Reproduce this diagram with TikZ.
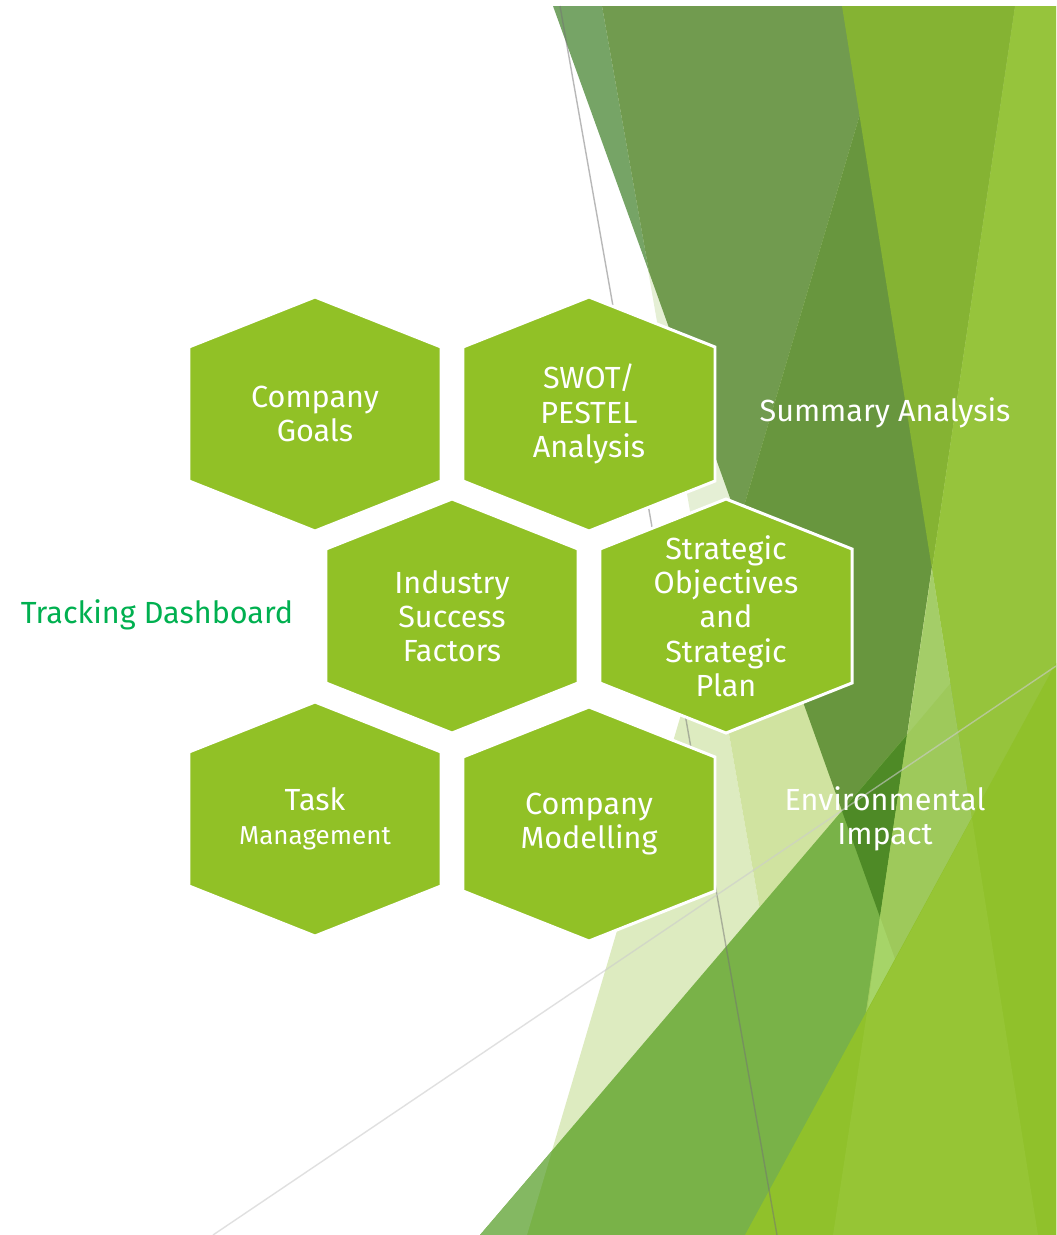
\documentclass[tikz,border=0pt]{standalone}
\usepackage{fontspec}
\setmainfont{Fira Sans}
\definecolor{hexgreen}{RGB}{145,193,38}
\definecolor{trackgreen}{RGB}{0,176,80}
\newcommand{\hexfont}{\fontsize{17.4}{19.5}\selectfont}
\newcommand{\mgmtfont}{\fontsize{14.8}{16.5}\selectfont}
\tikzset{
  hexa/.style={fill=hexgreen,draw=white,line width=1.7pt,line join=miter},
  hextext/.style={text=white,align=center,font=\hexfont,inner sep=0pt},
  sidetext/.style={align=center,font=\hexfont,inner sep=0pt}
}
\begin{document}
\begin{tikzpicture}[x=0.02cm,y=-0.02cm]
    \useasboundingbox (0,0) rectangle (1056,1235);
    \fill[white] (0,0) rectangle (1056,1235);
    % Facet background
    \fill[color={rgb,255:red,229;green,239;blue,213}] (602,6) -- (892,6) -- (709,620) -- cycle;
    \fill[color={rgb,255:red,221;green,235;blue,192}] (709,620) -- (817,1235) -- (527,1235) -- cycle;
    \fill[color={rgb,255:red,208;green,227;blue,160}] (892,6) -- (1056,6) -- (1056,1235) -- (817,1235) -- (709,620) -- cycle;
    \fill[color={rgb,255:red,118;green,164;blue,102}] (553,6) -- (602,6) -- (649,272) -- cycle;
    \fill[color={rgb,255:red,113;green,155;blue,79}] (602,6) -- (892,6) -- (739,523) -- (649,272) -- cycle;
    \fill[color={rgb,255:red,104;green,150;blue,62}] (892,6) -- (1015,6) -- (880,917) -- (739,523) -- cycle;
    \fill[color={rgb,255:red,121;green,178;blue,72}] (480,1235) -- (1056,560) -- (1056,1235) -- cycle;
    \fill[color={rgb,255:red,132;green,184;blue,98}] (480,1235) -- (552,1151) -- (527,1235) -- cycle;
    \fill[color={rgb,255:red,78;green,138;blue,38}] (842,811) -- (907,735) -- (880,917) -- cycle;
    \fill[color={rgb,255:red,133;green,179;blue,51}] (842,6) -- (1015,6) -- (932,569) -- cycle;
    \fill[color={rgb,255:red,150;green,196;blue,60}] (1015,6) -- (1056,6) -- (1056,1235) -- (1038,1235) -- (932,569) -- cycle;
    \fill[color={rgb,255:red,164;green,205;blue,104}] (932,569) -- (1038,1235) -- (833,1235) -- cycle;
    \fill[color={rgb,255:red,158;green,201;blue,91}] (907,735) -- (950,684) -- (1038,1235) -- (833,1235) -- cycle;
    \fill[color={rgb,255:red,166;green,212;blue,104}] (880,917) -- (895,959) -- (867,1012) -- cycle;
    \fill[color={rgb,255:red,144;green,193;blue,43}] (745,1235) -- (1056,663) -- (1056,1235) -- cycle;
    \fill[color={rgb,255:red,150;green,197;blue,53}] (867,1012) -- (972,818) -- (1038,1235) -- (833,1235) -- cycle;
    % thin lines
    \draw[black!55,opacity=0.5,line width=0.8pt] (560,6) -- (777,1235);
    \draw[black!20,opacity=0.6,line width=0.8pt] (213,1235) -- (1056,666);
    % hexagons
    \foreach \nm/\x/\y/\lbl in {goals/315/414/{Company\\Goals},
        swot/589/414/{SWOT/\\PESTEL\\Analysis},
        industry/452/616/{Industry\\Success\\Factors},
        strategy/726/616/{Strategic\\Objectives\\and\\Strategic\\Plan},
        task/315/819/{Task\\{\mgmtfont Management}},
        model/589/824/{Company\\Modelling}}{
      \draw[hexa] (\x,\y) ++(0,-117) -- ++(126,50) -- ++(0,134) -- ++(-126,50) -- ++(-126,-50) -- ++(0,-134) -- cycle;
      \node[hextext] (\nm) at (\x,\y) {\lbl};
    }
    % side labels
    \node[sidetext,text=white] (summary) at (885,413) {Summary Analysis};
    \node[sidetext,text=white] (environ) at (885,819) {Environmental\\Impact};
    \node[sidetext,text=trackgreen] (tracking) at (157,615) {Tracking Dashboard};
\end{tikzpicture}
\end{document}
